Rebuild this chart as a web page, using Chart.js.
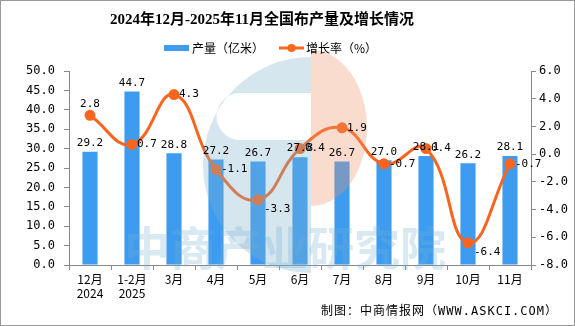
<!DOCTYPE html>
<html>
<head>
<meta charset="utf-8">
<script src="https://cdn.jsdelivr.net/npm/chart.js@4.4.1/dist/chart.umd.min.js"></script>
<style>
  html, body { margin: 0; padding: 0; background: #fff; overflow: hidden; }
  canvas { display: block; }
</style>
</head>
<body>
<canvas id="myChart" width="575" height="326"></canvas>
<script>
// 数据
var months = [['12月', '2024'], ['1-2月', '2025'], '3月', '4月', '5月', '6月', '7月', '8月', '9月', '10月', '11月'];
var output = [29.2, 44.7, 28.8, 27.2, 26.7, 27.8, 26.7, 27.0, 28.1, 26.2, 28.1];
var growth = [2.8, 0.7, 4.3, -1.1, -3.3, 0.4, 1.9, -0.7, 0.4, -6.4, -0.7];
// 增长率标签位置
var growthPos = ['top', 'right', 'right', 'right', 'belowright', 'right', 'right', 'right', 'right', 'belowright', 'right'];

var BLUE = '#3d9cf0';
var ORANGE = '#f8651f';
var FONT = '"Noto Sans CJK SC", "DejaVu Sans", sans-serif';
var NUMFONT = '"DejaVu Sans Mono", "Noto Sans CJK SC", sans-serif';

// 水印（半透明，盖在图形上面）
var watermark = {
    id: 'watermark',
    afterDatasetsDraw: function (chart) {
        var c = chart.ctx;
        c.save();
        c.globalAlpha = 0.33;
        // 蓝色半圆，中间挖一道横槽
        c.fillStyle = 'rgb(126,178,206)';
        c.beginPath();
        c.arc(311, 165, 108, Math.PI * 0.5, Math.PI * 1.5);
        c.lineTo(311, 93);
        c.lineTo(240, 93);
        c.arc(240, 116.5, 23.5, Math.PI * 1.5, Math.PI * 0.5, true);
        c.lineTo(311, 140);
        c.closePath();
        c.fill();
        // 橙色半椭圆
        c.fillStyle = 'rgb(240,150,110)';
        c.beginPath();
        c.ellipse(311, 128, 56, 78, 0, -Math.PI / 2, Math.PI / 2);
        c.closePath();
        c.fill();
        // 文字
        c.globalAlpha = 0.28;
        c.fillStyle = 'rgb(120,175,210)';
        c.font = 'bold 46px ' + FONT;
        c.textAlign = 'center';
        c.textBaseline = 'middle';
        c.fillText('中商产业研究院', 285, 248);
        c.restore();
    }
};

// 标题、图例、数据标签、来源
var decorations = {
    id: 'decorations',
    afterDraw: function (chart) {
        var c = chart.ctx;
        c.save();
        c.strokeStyle = '#999';
        c.lineWidth = 1;
        c.strokeRect(0.5, 0.5, 574, 325);

        c.fillStyle = '#000';
        c.textAlign = 'center';
        c.textBaseline = 'middle';
        c.font = 'bold 15px "Liberation Serif", ' + FONT;
        c.fillText('2024年12月-2025年11月全国布产量及增长情况', 262, 20);

        // 图例
        c.font = '12px ' + FONT;
        c.textAlign = 'left';
        c.fillStyle = BLUE;
        c.fillRect(164, 45, 25, 6);
        c.fillStyle = '#000';
        c.fillText('产量（亿米）', 192, 48);
        c.strokeStyle = ORANGE;
        c.lineWidth = 3;
        c.beginPath();
        c.moveTo(279, 48);
        c.lineTo(304, 48);
        c.stroke();
        c.fillStyle = ORANGE;
        c.beginPath();
        c.arc(291.5, 48, 4, 0, Math.PI * 2);
        c.fill();
        c.fillStyle = '#000';
        c.fillText('增长率（%）', 306, 48);

        // 柱子标签
        c.font = '11px ' + NUMFONT;
        c.textAlign = 'center';
        c.textBaseline = 'bottom';
        chart.getDatasetMeta(1).data.forEach(function (bar, i) {
            c.fillText(output[i].toFixed(1), bar.x, bar.y - 3);
        });

        // 折线标签
        chart.getDatasetMeta(0).data.forEach(function (pt, i) {
            var txt = growth[i].toFixed(1);
            var p = growthPos[i];
            if (p === 'top') {
                c.textAlign = 'center';
                c.textBaseline = 'bottom';
                c.fillText(txt, pt.x, pt.y - 6);
            } else if (p === 'right') {
                c.textAlign = 'left';
                c.textBaseline = 'middle';
                c.fillText(txt, pt.x + 5, pt.y);
            } else {
                c.textAlign = 'left';
                c.textBaseline = 'top';
                c.fillText(txt, pt.x + 6, pt.y + 4);
            }
        });

        // 来源
        c.font = '12px ' + NUMFONT;
        c.letterSpacing = '1px';
        c.textAlign = 'right';
        c.textBaseline = 'middle';
        c.fillStyle = '#000';
        c.fillText('制图：中商情报网（WWW.ASKCI.COM）', 558, 312);
        c.restore();
    }
};

var ctx = document.getElementById('myChart').getContext('2d');
var myChart = new Chart(ctx, {
    data: {
        labels: months,
        datasets: [{
            type: 'line',
            label: '增长率（%）',
            data: growth,
            yAxisID: 'y1',
            borderColor: ORANGE,
            backgroundColor: ORANGE,
            borderWidth: 3,
            pointRadius: 4,
            pointHoverRadius: 4,
            tension: 0.45,
            order: 0
        }, {
            type: 'bar',
            label: '产量（亿米）',
            data: output,
            yAxisID: 'y',
            backgroundColor: BLUE,
            barPercentage: 0.36,
            categoryPercentage: 1,
            order: 1
        }]
    },
    options: {
        responsive: false,
        animation: false,
        layout: { padding: { top: 71, left: 0, right: 0, bottom: 0 } },
        plugins: {
            legend: { display: false },
            title: { display: false },
            tooltip: { enabled: false }
        },
        scales: {
            x: {
                offset: true,
                grid: { display: true, drawOnChartArea: false, drawTicks: true, tickLength: 5, color: '#888' },
                border: { color: '#888' },
                ticks: { color: '#000', font: { size: 12, family: FONT }, padding: 2, maxRotation: 0, autoSkip: false },
                afterFit: function (s) { s.height = 61; }
            },
            y: {
                position: 'left',
                min: 0, max: 50,
                ticks: { stepSize: 5, color: '#000', padding: 9, font: { size: 12, family: NUMFONT },
                    callback: function (v) { return v.toFixed(1); } },
                grid: { drawOnChartArea: false, drawTicks: true, tickLength: 5, color: '#888' },
                border: { color: '#888' },
                afterFit: function (s) { s.width = 69; }
            },
            y1: {
                position: 'right',
                min: -8, max: 6,
                ticks: { stepSize: 2, color: '#000', font: { size: 12, family: NUMFONT },
                    callback: function (v) { return v.toFixed(1); } },
                grid: { drawOnChartArea: false, drawTicks: true, tickLength: 5, color: '#888' },
                border: { color: '#888' },
                afterFit: function (s) { s.width = 44; }
            }
        }
    },
    plugins: [watermark, decorations]
});
</script>
</body>
</html>
